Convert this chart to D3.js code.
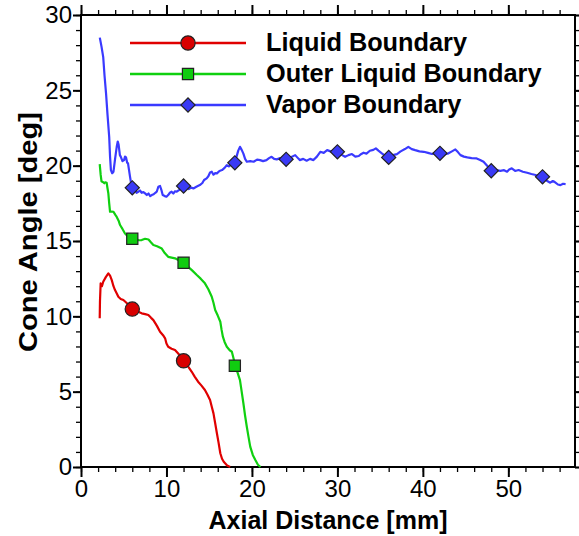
<!DOCTYPE html>
<html>
<head>
<meta charset="utf-8">
<script src="https://cdn.jsdelivr.net/npm/d3@7"></script>
<style>
  body { margin: 0; background: #fff; }
  svg { display: block; }
</style>
</head>
<body>
<div id="drawArea"></div>
<script>
// curves, [axial mm, angle deg]
var liquidCurve = [[2.19,9.87],[2.22,11.0],[2.3,12.19],[2.45,12.0],[2.6,12.3],[2.9,12.6],[3.2,12.85],[3.4,12.7],[3.6,12.4],[3.8,12.0],[3.98,11.74],[4.2,11.5],[4.37,11.3],[4.65,11.15],[4.96,11.08],[5.5,10.8],[6.0,10.48],[6.5,10.35],[7.1,10.2],[7.5,10.15],[7.88,10.09],[8.2,9.9],[8.47,9.75],[8.9,9.35],[9.25,8.98],[9.6,8.75],[9.84,8.54],[10.0,8.2],[10.2,7.98],[10.6,7.85],[11.0,7.76],[11.5,7.45],[12.06,7.05],[12.5,6.7],[12.96,6.32],[13.3,6.0],[13.7,5.66],[14.1,5.4],[14.5,5.11],[14.8,4.8],[15.1,4.45],[15.3,4.0],[15.5,3.56],[15.7,2.9],[15.9,2.24],[16.1,1.6],[16.3,0.91],[16.5,0.55],[16.7,0.35],[17.1,0.1],[17.45,0]];

var outerCurve = [[2.19,20.1],[2.3,19.4],[2.4,18.95],[2.5,18.93],[2.6,18.9],[2.73,18.83],[2.85,18.9],[3.0,18.87],[3.1,18.5],[3.2,18.16],[3.3,17.5],[3.4,16.94],[3.6,16.95],[3.8,16.94],[4.0,16.75],[4.18,16.6],[4.4,16.35],[4.57,16.06],[4.85,15.8],[5.15,15.5],[5.5,15.3],[6.0,15.15],[6.3,15.2],[6.7,15.05],[7.1,15.06],[7.5,15.15],[7.9,15.1],[8.2,14.9],[8.47,14.73],[8.9,14.65],[9.45,14.5],[9.8,14.2],[10.2,13.95],[10.6,13.9],[11.0,13.85],[11.5,13.7],[12.06,13.56],[12.5,13.3],[13.0,13.05],[13.55,12.74],[14.0,12.5],[14.5,12.19],[14.9,11.8],[15.3,11.3],[15.5,10.9],[15.7,10.42],[16.0,10.05],[16.3,9.64],[16.45,9.1],[16.6,8.65],[16.8,8.3],[17.06,7.98],[17.4,7.75],[17.65,7.65],[17.85,7.2],[18.03,6.72],[18.3,6.3],[18.6,5.77],[18.8,5.0],[19.0,4.23],[19.2,3.4],[19.4,2.67],[19.6,2.0],[19.8,1.35],[20.1,0.8],[20.4,0.46],[20.7,0.15],[21.0,0]];

var vaporCurve = [[2.2,28.5],[2.4,27.9],[2.6,27.2],[2.75,26.0],[2.93,24.8],[3.1,23.4],[3.3,21.9],[3.4,20.6],[3.5,19.7],[3.65,19.5],[3.8,19.6],[4.0,20.5],[4.18,21.25],[4.3,21.6],[4.4,21.4],[4.55,20.7],[4.65,20.6],[4.85,20.3],[5.04,20.37],[5.15,20.6],[5.27,20.55],[5.4,20.2],[5.5,20.15],[5.62,19.7],[5.74,19.26],[5.9,18.7],[6.0,18.53],[6.3,18.45],[6.5,18.2],[6.71,18.27],[6.9,18.35],[7.1,18.2],[7.3,18.25],[7.5,18.16],[7.7,18.05],[7.9,18.15],[8.1,17.98],[8.28,18.05],[8.5,18.1],[8.7,18.2],[8.86,18.27],[9.05,18.6],[9.25,18.65],[9.4,18.4],[9.56,18.05],[9.8,17.98],[10.0,17.94],[10.2,18.05],[10.4,18.2],[10.6,18.27],[10.8,18.15],[11.0,18.3],[11.2,18.27],[11.5,18.4],[11.8,18.55],[12.0,18.65],[12.3,18.6],[12.6,18.45],[12.9,18.55],[13.15,18.49],[13.5,18.6],[13.9,18.71],[14.2,18.85],[14.4,19.05],[14.7,19.16],[14.9,19.3],[15.1,19.55],[15.3,19.6],[15.5,19.4],[15.7,19.5],[15.9,19.49],[16.2,19.65],[16.5,19.71],[16.8,19.85],[17.06,20.04],[17.3,19.95],[17.6,20.1],[18.0,20.19],[18.2,20.6],[18.4,21.0],[18.6,21.25],[18.8,21.05],[19.0,20.8],[19.2,20.45],[19.4,20.26],[19.8,20.3],[20.2,20.26],[20.6,20.4],[20.96,20.37],[21.3,20.3],[21.7,20.37],[22.0,20.5],[22.3,20.59],[22.6,20.45],[22.9,20.42],[23.3,20.5],[23.7,20.4],[24.0,20.42],[24.5,20.55],[25.06,20.7],[25.3,20.55],[25.6,20.37],[26.0,20.45],[26.4,20.33],[26.8,20.45],[27.2,20.37],[27.6,20.6],[28.0,20.92],[28.4,20.85],[28.8,21.03],[29.2,20.95],[29.6,21.0],[30.0,20.92],[30.4,20.75],[30.9,20.59],[31.3,20.7],[31.7,20.77],[32.1,20.6],[32.5,20.64],[32.8,20.78],[33.06,20.86],[33.4,20.8],[33.8,20.99],[34.2,21.05],[34.5,21.15],[34.8,21.0],[35.2,20.82],[35.6,20.65],[36.07,20.55],[36.5,20.7],[36.97,20.77],[37.4,20.95],[37.9,21.1],[38.3,21.25],[38.7,21.1],[39.1,21.03],[39.6,20.95],[40.1,20.92],[40.6,20.85],[41.07,20.77],[41.5,20.85],[42.04,20.82],[42.5,20.75],[43.0,20.82],[43.4,20.95],[43.8,21.08],[44.1,20.9],[44.4,20.7],[44.8,20.6],[45.2,20.55],[45.7,20.5],[46.3,20.48],[46.7,20.38],[47.1,20.26],[47.6,19.95],[48.1,19.66],[48.6,19.7],[49.06,19.66],[49.5,19.7],[49.85,19.6],[50.1,19.75],[50.4,19.82],[50.8,19.65],[51.2,19.71],[51.7,19.6],[52.2,19.53],[52.7,19.45],[53.2,19.38],[53.6,19.35],[54.06,19.26],[54.5,19.0],[54.9,18.87],[55.2,18.98],[55.4,18.93],[55.8,18.75],[56.1,18.71],[56.4,18.8],[56.7,18.78]];

// symbols every 6 mm
var liquidMarkX = [6, 12];
var liquidMarkY = [10.48, 7.05];
var outerMarkX = [6, 12, 18];
var outerMarkY = [15.15, 13.56, 6.72];
var vaporMarkX = [6, 12, 18, 24, 30, 36, 42, 48, 54];
var vaporMarkY = [18.53, 18.65, 20.19, 20.42, 20.92, 20.55, 20.82, 19.66, 19.26];

var seriesNames = ["Liquid Boundary", "Outer Liquid Boundary", "Vapor Boundary"];
var xTicks = [0, 10, 20, 30, 40, 50];
var yTicks = [0, 5, 10, 15, 20, 25, 30];

var svg_width = 579, svg_height = 536;
var plotL = 81, plotR = 575, plotT = 15, plotB = 467;

var svg = d3.select("#drawArea").append("svg")
	.attr("width", svg_width)
	.attr("height", svg_height);

var x = d3.scaleLinear().domain([0, 57.8]).range([plotL, plotR]);
var y = d3.scaleLinear().domain([0, 30]).range([plotB, plotT]);

var tickFont = "'Liberation Sans', Arial, sans-serif";

// minor ticks first, majors on top
var xMinor = d3.range(0, 58, 2);
var yMinor = d3.range(0, 31, 1);

function minorAxis(axis, g){
	g.call(axis);
	g.select(".domain").remove();
	g.selectAll("text").remove();
	g.selectAll("line").attr("stroke", "#000").attr("stroke-width", 1.3);
}

minorAxis(d3.axisBottom(x).tickValues(xMinor).tickSize(5), svg.append("g").attr("transform", "translate(0," + plotB + ")"));
minorAxis(d3.axisTop(x).tickValues(xMinor).tickSize(5), svg.append("g").attr("transform", "translate(0," + plotT + ")"));
minorAxis(d3.axisLeft(y).tickValues(yMinor).tickSize(5), svg.append("g").attr("transform", "translate(" + plotL + ",0)"));
minorAxis(d3.axisRight(y).tickValues(yMinor).tickSize(5), svg.append("g").attr("transform", "translate(" + plotR + ",0)"));

var xAxis = svg.append("g")
	.attr("transform", "translate(0," + plotB + ")")
	.call(d3.axisBottom(x).tickValues(xTicks).tickSize(10).tickSizeOuter(0).tickPadding(3));
var xTop = svg.append("g")
	.attr("transform", "translate(0," + plotT + ")")
	.call(d3.axisTop(x).tickValues(xTicks).tickSize(10).tickSizeOuter(0).tickFormat(""));
var yAxis = svg.append("g")
	.attr("transform", "translate(" + plotL + ",0)")
	.call(d3.axisLeft(y).tickValues(yTicks).tickSize(8).tickSizeOuter(0).tickPadding(1));
var yRight = svg.append("g")
	.attr("transform", "translate(" + plotR + ",0)")
	.call(d3.axisRight(y).tickValues(yTicks).tickSize(8).tickSizeOuter(0).tickFormat(""));

[xAxis, xTop, yAxis, yRight].forEach(function(g){
	g.select(".domain").remove();
	g.selectAll("line").attr("stroke", "#000").attr("stroke-width", 2);
	g.selectAll("text")
		.attr("fill", "#000")
		.attr("font-family", tickFont)
		.attr("font-size", 24);
});

svg.append("rect")
	.attr("x", plotL).attr("y", plotT)
	.attr("width", plotR - plotL).attr("height", plotB - plotT)
	.attr("fill", "none").attr("stroke", "#000").attr("stroke-width", 2);

// curves
var line = d3.line().x(function(d){ return x(d[0]); }).y(function(d){ return y(d[1]); });
var colors = ["#e00000", "#10d010", "#3a3aff"];
var markFill = ["#d80000", "#10cc10", "#3a3af5"];

svg.append("g").selectAll("path")
	.data([liquidCurve, outerCurve, vaporCurve])
	.enter().append("path")
		.attr("d", line)
		.attr("fill", "none")
		.attr("stroke", function(d, i){ return colors[i]; })
		.attr("stroke-width", 2.2)
		.attr("stroke-linejoin", "round");

var shapes = [d3.symbolCircle, d3.symbolSquare, d3.symbolSquare];
var shapeSize = [160, 125, 100];

function drawMarks(xs, ys, k){
	svg.append("g").selectAll("path")
		.data(xs.map(function(v, i){ return [v, ys[i]]; }))
		.enter().append("path")
			.attr("transform", function(d){ return "translate(" + x(d[0]) + "," + y(d[1]) + ")" + (k == 2 ? " rotate(45)" : ""); })
			.attr("d", d3.symbol().type(shapes[k]).size(shapeSize[k]))
			.attr("fill", markFill[k])
			.attr("stroke", "#222")
			.attr("stroke-width", 1.2);
}
drawMarks(liquidMarkX, liquidMarkY, 0);
drawMarks(outerMarkX, outerMarkY, 1);
drawMarks(vaporMarkX, vaporMarkY, 2);

// legend
var legend = svg.append("g");
seriesNames.forEach(function(name, i){
	var ly = 43 + i * 31;
	legend.append("line")
		.attr("x1", 130).attr("x2", 246)
		.attr("y1", ly).attr("y2", ly)
		.attr("stroke", colors[i]).attr("stroke-width", 2.4);
	legend.append("path")
		.attr("transform", "translate(188," + ly + ")" + (i == 2 ? " rotate(45)" : ""))
		.attr("d", d3.symbol().type(shapes[i]).size(shapeSize[i]))
		.attr("fill", markFill[i])
		.attr("stroke", "#222")
		.attr("stroke-width", 1.2);
	legend.append("text")
		.attr("x", 266).attr("y", ly + 8)
		.attr("font-family", tickFont)
		.attr("font-weight", "bold")
		.attr("font-size", 25.3)
		.attr("fill", "#000")
		.text(name);
});

// axis titles
svg.append("text")
	.attr("x", (plotL + plotR) / 2).attr("y", 529)
	.attr("text-anchor", "middle")
	.attr("font-family", tickFont)
	.attr("font-weight", "bold")
	.attr("font-size", 25)
	.text("Axial Distance [mm]");

svg.append("text")
	.attr("transform", "translate(37,232) rotate(-90)")
	.attr("text-anchor", "middle")
	.attr("font-family", tickFont)
	.attr("font-weight", "bold")
	.attr("font-size", 26)
	.attr("textLength", 240)
	.attr("lengthAdjust", "spacingAndGlyphs")
	.text("Cone Angle [deg]");
</script>
</body>
</html>
